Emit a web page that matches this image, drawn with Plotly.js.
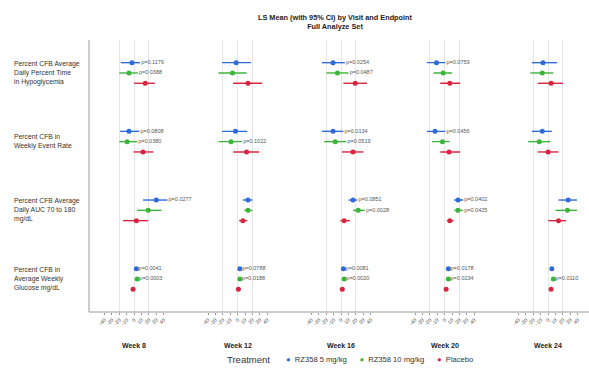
<!DOCTYPE html>
<html>
<head>
<meta charset="utf-8">
<script src="https://cdn.plot.ly/plotly-3.0.1.min.js"></script>
<style>html,body{margin:0;padding:0;background:#fff;}#chart{width:589px;height:368px;}</style>
</head>
<body>
<div id="chart"></div>
<script>
// ---- Data ----
const weeks = ["Week 8", "Week 12", "Week 16", "Week 20", "Week 24"];
const endpoints = [
  "Percent CFB Average<br>Daily Percent Time<br>in Hypoglycemia",
  "Percent CFB in<br>Weekly Event Rate",
  "Percent CFB Average<br>Daily AUC 70 to 180<br>mg/dL",
  "Percent CFB in<br>Average Weekly<br>Glucose mg/dL"
];
const treatments = ["RZ358 5 mg/kg", "RZ358 10 mg/kg", "Placebo"];
const tickValues = [-40, -30, -20, -10, 0, 10, 20, 30, 40];
const gridValues = [-20, 0, 20];

// estimates / lower CI / upper CI: one row per week, columns = endpoints
const est5  = [[-3, -7, 30, 3], [-2, -3, 14, 3], [-11, -11, 16, 3], [-11, -13, 18, 5], [-7, -8, 27, 5]];
const lo5   = [[-18, -19, 12, 1], [-21, -21, 7, 1.5], [-26, -26, 10, 1], [-24, -24, 13, 3], [-22, -22, 14, 4]];
const hi5   = [[8, 7, 45, 4.5], [18, 13, 20, 5], [5, 3, 22, 4.5], [1, 1, 25, 6.5], [12, 5, 39, 7]];

const est10 = [[-7, -9.5, 19, 4], [-7, -9, 14, 3], [-5, -8, 23, 4], [-2, -3, 18, 5], [-8, -12, 26, 7]];
const lo10  = [[-20, -20, 4, 2.5], [-26, -26, 9, 1.5], [-20, -23, 16, 2.5], [-15, -17, 13, 3], [-24, -27, 10, 5.5]];
const hi10  = [[5, 4, 37, 5.5], [12, 6, 20, 4.5], [10, 7, 32, 5.5], [10, 7, 25, 6.5], [7, 3, 39, 8.5]];

const estPb = [[15, 12, 3, -1.5], [14, 12, 7, 1], [19, 16, 4, 1.5], [7, 6, 7, 2], [4, 0, 14, 4]];
const loPb  = [[0, -1, -15, -3], [-6, -6, 2, -1], [3, 1, -1, 0], [-6, -6, 3, 0.5], [-14, -14, 0, 2.5]];
const hiPb  = [[28, 26, 19, 0], [33, 29, 13, 2.5], [35, 30, 12, 3], [21, 21, 12, 3.5], [20, 14, 24, 5.5]];

const p5  = [["p=0.1179", "p=0.0808", "p=0.0277", "p=0.0041"], ["", "", "", "p=0.0788"],
             ["p=0.0254", "p=0.0134", "p=0.0851", "p=0.0081"], ["p=0.0759", "p=0.0456", "p=0.0402", "p=0.0178"],
             ["", "", "", ""]];
const p10 = [["p=0.0388", "p=0.0380", "", "p=0.0003"], ["", "p=0.1022", "", "p=0.0188"],
             ["p=0.0487", "p=0.0519", "p=0.0028", "p=0.0020"], ["", "", "p=0.0425", "p=0.0234"],
             ["", "", "", "p=0.0110"]];

// ---- Styling ----
const colors = ["#2E6BD6", "#3CB43C", "#D8263E"];
const offsets = [0.15, 0, -0.15];
const groupPos = [4, 3, 2, 1];
const FONT = "Liberation Sans, Arial, sans-serif";

const series = [
  {est: est5, lo: lo5, hi: hi5, p: p5},
  {est: est10, lo: lo10, hi: hi10, p: p10},
  {est: estPb, lo: loPb, hi: hiPb, p: null}
];

const traces = [];
weeks.forEach((wk, w) => {
  const ax = w === 0 ? "x" : "x" + (w + 1);
  series.forEach((s, t) => {
    const ys = groupPos.map(g => g + offsets[t]);
    traces.push({
      type: "scatter", mode: "markers",
      x: s.est[w], y: ys, xaxis: ax, yaxis: "y",
      name: treatments[t], showlegend: false,
      marker: {color: colors[t], size: 5},
      error_x: {type: "data", symmetric: false,
        array: s.hi[w].map((h, i) => h - s.est[w][i]),
        arrayminus: s.est[w].map((e, i) => e - s.lo[w][i]),
        color: colors[t], thickness: 1.4, width: 0},
      cliponaxis: false, hoverinfo: "skip"
    });
    if (s.p) {
      traces.push({
        type: "scatter", mode: "text",
        x: s.hi[w], y: ys, xaxis: ax, yaxis: "y",
        text: s.p[w].map(v => v ? "\u2009" + v : ""), textposition: "middle right",
        textfont: {size: 5.5, color: "#555", family: FONT},
        showlegend: false, cliponaxis: false, hoverinfo: "skip"
      });
    }
  });
});

const plotW = 500, step = 103.5, panelW = 86;
const layout = {
  width: 589, height: 368,
  margin: {l: 89, r: 0, t: 40, b: 56},
  paper_bgcolor: "#fff", plot_bgcolor: "#fff",
  font: {family: FONT, color: "#333"},
  yaxis: {range: [0.52, 4.48], showticklabels: false, showgrid: false, zeroline: false, ticks: "",
    fixedrange: true},
  showlegend: false,
  annotations: [
    {text: "<b>LS Mean (with 95% CI) by Visit and Endpoint</b><br><b>Full Analyze Set</b>",
      xref: "paper", x: 0.492, xanchor: "center", yref: "paper", y: 1.066, yanchor: "middle",
      showarrow: false, align: "center", font: {size: 7.3, color: "#222"}},
    {text: "Treatment", xref: "paper", x: (225 - 89) / 500, xanchor: "left",
      yref: "paper", y: -0.176, yanchor: "middle", showarrow: false,
      font: {size: 9.5, color: "#333"}},
    {text: treatments.map((t, i) => '<span style="color:' + colors[i] + '">\u25CF</span>  ' + t).join("      "),
      xref: "paper", x: (284 - 89) / 500, xanchor: "left",
      yref: "paper", y: -0.176, yanchor: "middle", showarrow: false,
      font: {size: 7.6, color: "#333"}}
  ],
  shapes: [
    {type: "line", xref: "paper", yref: "paper", x0: 0, x1: 1, y0: 0, y1: 0, line: {color: "#9a9a9a", width: 1}},
    {type: "line", xref: "paper", yref: "paper", x0: 0, x1: 0, y0: 0, y1: 1, line: {color: "#9a9a9a", width: 1}}
  ]
};

weeks.forEach((wk, w) => {
  const key = w === 0 ? "xaxis" : "xaxis" + (w + 1);
  const d0 = w * step / plotW;
  const d1 = d0 + panelW / plotW;
  layout[key] = {
    domain: [d0, d1], anchor: "y", range: [-61, 55.2],
    tickvals: tickValues, ticktext: tickValues.map(String), tickangle: -45,
    tickfont: {size: 5.2, color: "#555"}, ticks: "outside", ticklen: 2, tickcolor: "#999",
    showgrid: false, zeroline: false, showline: false,
    minor: {tickvals: gridValues, showgrid: true, gridcolor: "#e6e6e6", gridwidth: 1, ticks: ""}
  };
  layout.annotations.push({
    text: "<b>" + wk + "</b>", xref: w === 0 ? "x" : "x" + (w + 1), x: 0,
    yref: "paper", y: -0.124, showarrow: false, xanchor: "center", yanchor: "middle",
    font: {size: 7, color: "#222"}
  });
});

endpoints.forEach((ep, i) => {
  layout.annotations.push({
    text: ep, xref: "paper", x: -0.155, xanchor: "left", yref: "y", y: groupPos[i],
    yanchor: "middle", align: "left", showarrow: false,
    font: {size: 6.8, color: "#333"}
  });
});

Plotly.newPlot("chart", traces, layout, {staticPlot: true, displayModeBar: false});
</script>
</body>
</html>
